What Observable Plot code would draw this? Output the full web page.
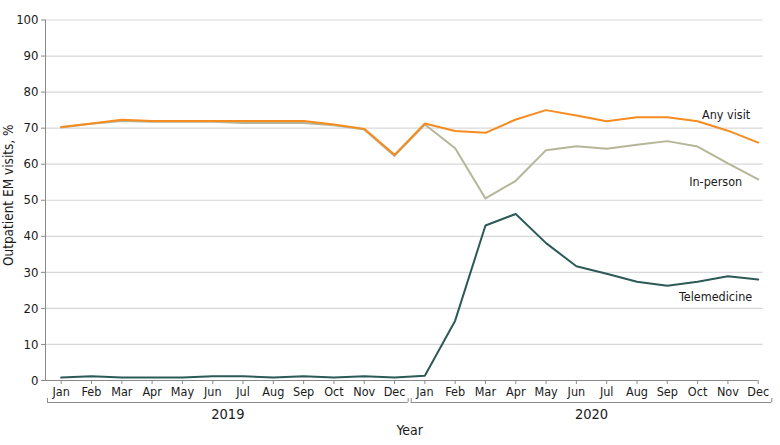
<!DOCTYPE html>
<html>
<head>
<meta charset="utf-8">
<script src="https://cdn.jsdelivr.net/npm/d3@7"></script>
<script src="https://cdn.jsdelivr.net/npm/@observablehq/plot@0.6"></script>
<style>
  html, body { margin: 0; padding: 0; background: #fff; }
  #chart svg { font-family: "DejaVu Sans Condensed", "DejaVu Sans", sans-serif; }
</style>
</head>
<body>
<div id="chart"></div>
<script>
const months = ["Jan","Feb","Mar","Apr","May","Jun","Jul","Aug","Sep","Oct","Nov","Dec"];
const years = ["2019","2020"];
const seriesNames = ["Any visit","In-person","Telemedicine"];
const seriesColors = ["#f68b1f","#b5b697","#2c5a56"];
const yTicks = [0,10,20,30,40,50,60,70,80,90,100];

const anyVisit = [70.3,71.3,72.3,72.0,72.0,72.0,72.0,72.0,72.0,71.0,69.8,62.6,
                  71.3,69.2,68.7,72.4,75.0,73.5,71.9,73.0,73.0,71.9,69.3,66.0];
const inPerson = [70.2,71.2,72.0,71.8,71.8,71.8,71.4,71.4,71.4,70.8,69.6,62.3,
                  71.0,64.4,50.5,55.4,63.9,65.0,64.3,65.4,66.4,64.9,60.2,55.8];
const telemedicine = [0.8,1.2,0.8,0.8,0.8,1.2,1.2,0.8,1.2,0.8,1.2,0.8,
                      1.3,16.6,43.0,46.2,38.1,31.7,29.6,27.4,26.3,27.4,28.9,28.0];

const seriesValues = [anyVisit, inPerson, telemedicine];
const rows = [];
seriesValues.forEach((vals, s) => vals.forEach((v, i) => rows.push({series: seriesNames[s], i, value: v})));
const lastRows = rows.filter(d => d.i === 23);
const nMonths = anyVisit.length;
const xDomain = [-0.518, nMonths - 1 + 0.165];

const labelOffsets = {"Any visit": [-8, -28], "In-person": [-16, 3], "Telemedicine": [-6, 17]};
const drawOrder = ["In-person","Telemedicine","Any visit"];

const plot = Plot.plot({
  width: 780,
  height: 445,
  marginLeft: 45,
  marginRight: 780 - 762.7,
  marginTop: 19.5,
  marginBottom: 65,
  x: {type: "linear", domain: xDomain, axis: null},
  y: {domain: [0, 100], axis: null},
  color: {domain: seriesNames, range: seriesColors},
  style: {fontFamily: "'DejaVu Sans Condensed', 'DejaVu Sans', sans-serif", fontSize: "12px", color: "#222"},
  marks: [
    Plot.gridY(yTicks.filter(t => t > 0), {stroke: "#d8d8d8", strokeOpacity: 1, strokeWidth: 1.2}),
    Plot.ruleX([xDomain[0]], {stroke: "#8a8a8a", strokeWidth: 1}),
    Plot.ruleY([0], {x1: xDomain[0], x2: nMonths - 1, stroke: "#8a8a8a", strokeWidth: 1}),
    Plot.axisY({ticks: yTicks, tickSize: 4, tickPadding: 3, stroke: "#8a8a8a", fill: "#1a1a1a", fontSize: 13, label: null, anchor: "left"}),
    Plot.axisX({ticks: d3.range(nMonths), tickFormat: i => months[i % 12], tickSize: 4, tickPadding: 3, stroke: "#8a8a8a", fill: "#1a1a1a", fontSize: 12.5, label: null, anchor: "bottom"}),
    // year brackets
    Plot.ruleY(years, {y: 0, x1: (d, k) => k * 12 - 0.45, x2: (d, k) => k * 12 + 11.45, dy: 22, stroke: "#8a8a8a"}),
    Plot.ruleX(years.flatMap((d, k) => [k * 12 - 0.45, k * 12 + 11.45]), {y1: 0, y2: 0, insetTop: -4, dy: 22, stroke: "#8a8a8a"}),
    Plot.text(years, {x: (d, k) => k * 12 + 5.5, y: 0, dy: 34, text: d => d, fontSize: 14.5, fill: "#1a1a1a"}),
    Plot.text(["Year"], {x: (nMonths - 1) / 2, y: 0, dy: 50, text: d => d, fontSize: 14, fill: "#1a1a1a"}),
    Plot.text(["Outpatient EM visits, %"], {frameAnchor: "left", textAnchor: "middle", dx: -36.5, dy: -5, rotate: -90, text: d => d, fontSize: 13.5, fill: "#1a1a1a"}),
    ...drawOrder.map(name => Plot.line(rows.filter(d => d.series === name), {x: "i", y: "value", stroke: "series", strokeWidth: 2})),
    ...seriesNames.map(name => Plot.text(lastRows.filter(d => d.series === name), {
      x: "i", y: "value", text: "series", textAnchor: "end",
      dx: labelOffsets[name][0], dy: labelOffsets[name][1], fontSize: 12.5, fill: "#1a1a1a"
    }))
  ]
});
document.getElementById("chart").appendChild(plot);
</script>
</body>
</html>
